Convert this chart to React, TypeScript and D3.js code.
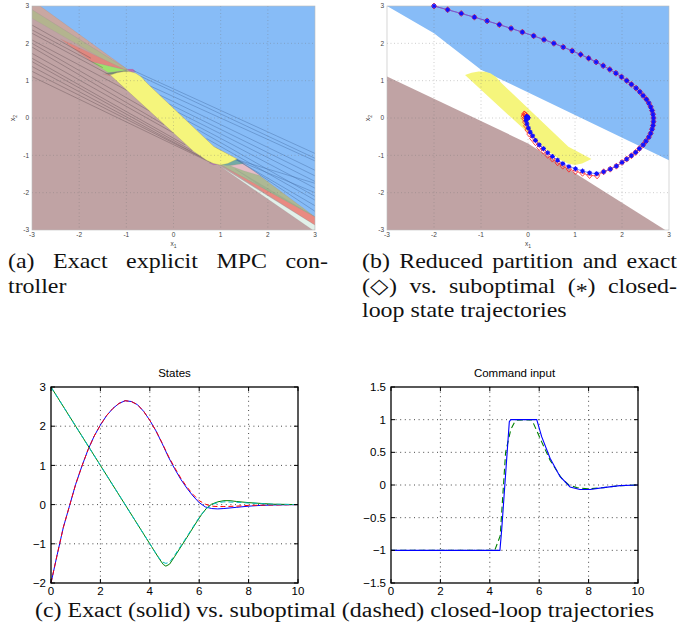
import React, { useLayoutEffect, useRef, useState } from "react";
import * as d3 from "d3";

type P = [number, number];

// ---------- (a) / (b) state-space partition ----------
const partTicks = [-3, -2, -1, 0, 1, 2, 3];

// unconstrained (yellow) region, same in both panels
const yellowRegion: P[] = [
  [-1.34, 1.15], [-1.2, 1.21], [-1.05, 1.245], [-0.91, 1.24], [-0.8, 1.2],
  [-0.68, 1.1], [-0.56, 0.93], [0.86, -0.77], [1.35, -1.1], [1.15, -1.22],
  [1.0, -1.26], [0.85, -1.22], [0.7, -1.13], [0.55, -1.0], [0.43, -0.9],
];

// panel (a): saturated u=-1 region (blue) above the band
const blueRegionA: P[] = [
  [-2.83, 3], [3, 3], [3, -2.65], [1.35, -1.1], [0.86, -0.77],
  [-0.56, 0.93], [-0.8, 1.2], [-0.95, 1.28],
];

// small regions in the band between the two saturated regions
const bandPolys: P[][] = [
  [[-3, 3], [-2.83, 3], [-0.95, 1.28], [-3, 2.9]],
  [[-3, 2.9], [-0.95, 1.28], [-1.05, 1.25], [-3, 2.67]],
  [[-2.4, 2.12], [-1.0, 1.28], [-1.73, 1.5]],
  [[-1.73, 1.5], [-1.0, 1.28], [-1.38, 1.21]],
  [[-1.45, 1.2], [-1.0, 1.27], [-0.95, 1.21], [-1.3, 1.16]],
  [[-1.5, 1.18], [-1.3, 1.16], [-1.36, 1.13]],
  [[-0.98, 1.31], [-0.86, 1.31], [-0.8, 1.24], [-0.92, 1.24]],
  [[1.35, -1.1], [3, -2.65], [1.0, -1.26]],
  [[1.3, -1.36], [3, -2.65], [2.4, -2.3]],
  [[1.0, -1.25], [1.35, -1.1], [1.5, -1.22], [1.15, -1.27]],
  [[1.2, -1.28], [1.5, -1.22], [1.85, -1.55], [1.5, -1.42]],
  [[0.75, -1.2], [0.95, -1.24], [0.85, -1.26]],
  [[1.0, -1.26], [3, -2.65], [3, -2.87], [1.1, -1.33]],
  [[0.95, -1.26], [3, -2.87], [3, -3], [2.95, -3]],
];
const bandFill = [
  "#c9a7a2", "#b3b48e", "#e0877f", "#9ce26c", "#748a74", "#e0877f", "#b66db8",
  "#adb894", "#9eb38e", "#72aaa6", "#e6bcc6", "#b66db8", "#e98a82", "#e2f1ea",
];

// region boundaries drawn inside the saturated regions
const brownCuts: [P, P][] = [
  [[-3, 2.49], [-1.75, 1.6]], [[-3, 2.36], [-1.5, 1.35]], [[-3, 2.27], [-1.35, 1.15]],
  [[-3, 2.09], [-1.0, 0.75]], [[-3, 2.0], [-0.5, 0.18]], [[-3, 1.9], [-0.2, -0.18]],
  [[-3, 1.73], [0.0, -0.4]], [[-3, 1.6], [0.25, -0.72]], [[-3, 1.51], [0.4, -0.88]],
  [[-3, 1.38], [0.6, -1.05]], [[-3, 1.25], [0.7, -1.12]], [[-3, 1.11], [0.8, -1.2]],
];
const blueCuts: [P, P][] = [
  [[-0.85, 1.27], [3, -0.95]], [[-0.7, 1.12], [3, -1.08]], [[-0.5, 0.86], [3, -1.15]],
  [[-0.3, 0.62], [3, -1.4]], [[-0.1, 0.38], [3, -1.55]], [[0.1, 0.15], [3, -1.7]],
  [[0.3, -0.08], [3, -1.88]], [[0.5, -0.3], [3, -2.1]], [[0.7, -0.55], [3, -2.2]],
  [[0.9, -0.8], [3, -2.35]], [[1.3, -1.1], [3, -1.75]], [[1.2, -1.05], [3, -2.0]],
  [[1.35, -1.12], [3, -2.5]],
];

// panel (b): reduced partition
const blueRegionB: P[] = [[-3, 3], [3, 3], [3, -1.13], [-1.0, 1.29], [-2.0, 2.27]];
const brownRegionB: P[] = [[-3, -3], [2.92, -3], [0, -0.68], [-3, 1.11]];

// closed-loop trajectory (x1, x2), shared first part
const trajUpper: P[] = [
  [-2.0, 3.0], [-1.71, 2.9], [-1.42, 2.8], [-1.14, 2.7], [-0.87, 2.6], [-0.61, 2.5],
  [-0.36, 2.4], [-0.12, 2.3], [0.12, 2.2], [0.34, 2.1], [0.55, 2.0], [0.75, 1.9],
  [0.94, 1.8], [1.12, 1.7], [1.29, 1.6], [1.45, 1.5], [1.6, 1.4], [1.74, 1.3],
  [1.87, 1.2], [1.99, 1.1], [2.1, 1.0], [2.2, 0.9], [2.3, 0.8], [2.38, 0.7],
  [2.45, 0.6], [2.52, 0.5], [2.57, 0.4], [2.61, 0.3], [2.64, 0.2], [2.66, 0.1],
  [2.67, 0.0], [2.67, -0.1], [2.66, -0.2], [2.64, -0.3], [2.61, -0.41], [2.57, -0.51],
  [2.51, -0.62], [2.45, -0.72], [2.37, -0.82], [2.29, -0.92], [2.2, -1.01], [2.1, -1.1],
  [2.0, -1.19], [1.88, -1.29], [1.75, -1.37], [1.61, -1.44],
];
const trajSubLower: P[] = [
  [1.46, -1.49], [1.31, -1.47], [1.16, -1.42], [1.01, -1.36], [0.87, -1.3], [0.74, -1.22],
  [0.63, -1.13], [0.52, -1.03], [0.42, -0.93], [0.33, -0.82], [0.24, -0.72], [0.16, -0.6],
  [0.1, -0.48], [0.05, -0.38], [0.01, -0.27], [-0.02, -0.16], [-0.04, -0.07], [-0.04, 0.0],
  [-0.03, 0.04], [-0.02, 0.03], [-0.01, 0.02], [0.0, 0.01], [0.0, 0.0],
];
const trajExactLower: P[] = [
  [1.47, -1.55], [1.31, -1.54], [1.16, -1.48], [1.01, -1.43], [0.87, -1.37], [0.74, -1.29],
  [0.63, -1.2], [0.52, -1.1], [0.42, -1.0], [0.33, -0.89], [0.24, -0.79], [0.16, -0.66],
  [0.09, -0.55], [0.03, -0.43], [-0.01, -0.32], [-0.04, -0.21], [-0.06, -0.11], [-0.08, -0.02],
  [-0.09, 0.05], [-0.08, 0.11], [-0.07, 0.1], [-0.05, 0.08], [-0.03, 0.05], [-0.01, 0.02],
];

// ---------- (c) time responses ----------
const timeTicks = [0, 2, 4, 6, 8, 10];
const stateTicks = [-2, -1, 0, 1, 2, 3];
const inputTicks = [-1.5, -1, -0.5, 0, 0.5, 1, 1.5];

const x1Exact: P[] = [
  [0, -2], [0.25, -1.28], [0.5, -0.58], [0.75, -0.03], [1, 0.52], [1.25, 0.98], [1.5, 1.4],
  [1.75, 1.75], [2, 2.03], [2.25, 2.27], [2.5, 2.45], [2.75, 2.58], [3, 2.65], [3.25, 2.63],
  [3.5, 2.55], [3.75, 2.38], [4, 2.15], [4.25, 1.88], [4.5, 1.56], [4.75, 1.22], [5, 0.92],
  [5.25, 0.65], [5.5, 0.42], [5.75, 0.22], [6, 0.05], [6.25, -0.06], [6.5, -0.1],
  [6.75, -0.11], [7, -0.1], [7.5, -0.07], [8, -0.04], [8.5, -0.02], [9, -0.01], [10, 0],
];
const x1Sub: P[] = [
  [0, -2], [0.25, -1.28], [0.5, -0.58], [0.75, -0.03], [1, 0.52], [1.25, 0.98], [1.5, 1.4],
  [1.75, 1.75], [2, 2.03], [2.25, 2.27], [2.5, 2.45], [2.75, 2.58], [3, 2.65], [3.25, 2.63],
  [3.5, 2.55], [3.75, 2.38], [4, 2.15], [4.25, 1.88], [4.5, 1.57], [4.75, 1.24], [5, 0.95],
  [5.25, 0.68], [5.5, 0.45], [5.75, 0.26], [6, 0.1], [6.25, 0.01], [6.5, -0.04],
  [6.75, -0.05], [7, -0.05], [7.5, -0.04], [8, -0.02], [9, -0.01], [10, 0],
];
const x2Exact: P[] = [
  [0, 3], [1, 2], [2, 1], [3, 0], [4, -1], [4.4, -1.4], [4.55, -1.53], [4.65, -1.57],
  [4.8, -1.52], [5, -1.33], [5.5, -0.84], [5.9, -0.44], [6.1, -0.25], [6.3, -0.09],
  [6.5, 0.01], [6.75, 0.07], [7, 0.1], [7.25, 0.1], [7.5, 0.08], [8, 0.05], [8.5, 0.03],
  [9, 0.01], [10, 0],
];
const x2Sub: P[] = [
  [0, 3], [1, 2], [2, 1], [3, 0], [4, -1], [4.3, -1.3], [4.5, -1.46], [4.65, -1.5],
  [4.8, -1.47], [5, -1.3], [5.5, -0.82], [5.9, -0.42], [6.1, -0.24], [6.3, -0.1],
  [6.5, 0.0], [6.75, 0.05], [7, 0.07], [7.5, 0.06], [8, 0.04], [9, 0.01], [10, 0],
];
const uExact: P[] = [
  [0, -1], [4.41, -1], [4.48, -0.69], [4.79, 0.97], [4.85, 1], [5.9, 1], [6.1, 0.74],
  [6.44, 0.41], [6.84, 0.13], [7.25, -0.03], [7.65, -0.07], [8.06, -0.07], [8.6, -0.04],
  [9.27, -0.01], [10, 0],
];
const uSub: P[] = [
  [0, -1], [4.2, -1], [4.3, -0.9], [4.42, -0.78], [4.64, 0.5], [4.85, 0.85], [5.0, 0.96],
  [5.1, 0.99], [5.7, 1.0], [5.83, 0.89], [6.1, 0.66], [6.44, 0.38], [6.91, 0.1],
  [7.2, 0.0], [7.52, -0.04], [8, -0.06], [8.6, -0.04], [9.3, -0.01], [10, 0],
];

const serif = "'Liberation Serif', 'Times New Roman', serif";
const sans = "'Liberation Sans', Arial, Helvetica, sans-serif";

const polyPath = (xs: d3.ScaleLinear<number, number>, ys: d3.ScaleLinear<number, number>, pts: P[]) =>
  d3.line<P>().x(d => xs(d[0])).y(d => ys(d[1]))(pts) + "Z";
const linePath = (xs: d3.ScaleLinear<number, number>, ys: d3.ScaleLinear<number, number>, pts: P[]) =>
  d3.line<P>().x(d => xs(d[0])).y(d => ys(d[1]))(pts) || "";

// caption line: glyphs stretched horizontally like the reference, optionally justified
function Caption({ x, y, width, text, justify, fit, size = 21, sx = 1.14, children }: any) {
  const ref = useRef<SVGTextElement>(null);
  const [ws, setWs] = useState(0);
  useLayoutEffect(() => {
    if (!justify || !ref.current) return;
    const natural = ref.current.getComputedTextLength();
    const gaps = text.split(" ").length - 1;
    setWs((width / sx - natural) / gaps);
  }, [text, width, justify, sx]);
  if (fit) {
    return (
      <text x={x} y={y} fontFamily={serif} fontSize={size} fill="#111"
        textLength={width} lengthAdjust="spacingAndGlyphs">{text}</text>
    );
  }
  return (
    <g transform={`translate(${x},${y}) scale(${sx},1)`}>
      <text ref={ref} x={0} y={0} fontFamily={serif} fontSize={size} fill="#111"
        style={{ wordSpacing: ws + "px" }}>
        {children || text}
      </text>
    </g>
  );
}

function PartitionAxes({ xs, ys }: any) {
  const [x0, x1] = xs.range();
  const [y0, y1] = ys.range();
  const inner = partTicks.slice(1, -1);
  return (
    <g>
      {inner.map(t => (
        <line key={"gx" + t} x1={xs(t)} x2={xs(t)} y1={y1} y2={y0}
          stroke="#777" strokeOpacity={0.6} strokeWidth={0.6} strokeDasharray="1,2.5" />
      ))}
      {inner.map(t => (
        <line key={"gy" + t} x1={x0} x2={x1} y1={ys(t)} y2={ys(t)}
          stroke="#777" strokeOpacity={0.6} strokeWidth={0.6} strokeDasharray="1,2.5" />
      ))}
      <rect x={x0} y={y1} width={x1 - x0} height={y0 - y1} fill="none" stroke="#bbb" strokeWidth={0.6} />
      {partTicks.map(t => (
        <text key={"ty" + t} x={x0 - 3} y={ys(t)} dy="0.35em" textAnchor="end"
          fontFamily={sans} fontSize={6.5} fill="#444">{t}</text>
      ))}
      {partTicks.map(t => (
        <text key={"tx" + t} x={xs(t)} y={y0 + 7} textAnchor="middle"
          fontFamily={sans} fontSize={6.5} fill="#444">{t}</text>
      ))}
      <text x={xs(0)} y={y0 + 16} textAnchor="middle" fontFamily={sans} fontSize={6.5} fill="#444">
        x<tspan fontSize={5} dy={1.5}>1</tspan>
      </text>
      <text transform={`translate(${x0 - 17},${ys(0)}) rotate(-90)`} textAnchor="middle"
        fontFamily={sans} fontSize={6.5} fill="#444">
        x<tspan fontSize={5} dy={1.5}>2</tspan>
      </text>
    </g>
  );
}

function TimePlot({ xs, ys, yTicks, title, children }: any) {
  const [x0, x1] = xs.range();
  const [y0, y1] = ys.range();
  const fmt = (v: number) => (v < 0 ? "\u2212" + Math.abs(v) : String(v));
  return (
    <g>
      {timeTicks.slice(1, -1).map(t => (
        <line key={"gx" + t} x1={xs(t)} x2={xs(t)} y1={y1} y2={y0}
          stroke="#333" strokeWidth={0.9} strokeDasharray="1,3.6" />
      ))}
      {yTicks.slice(1, -1).map((t: number) => (
        <line key={"gy" + t} x1={x0} x2={x1} y1={ys(t)} y2={ys(t)}
          stroke="#333" strokeWidth={0.9} strokeDasharray="1,3.6" />
      ))}
      {children}
      {timeTicks.map(t => (
        <g key={"tk" + t}>
          <line x1={xs(t)} x2={xs(t)} y1={y0} y2={y0 - 4} stroke="#000" />
          <line x1={xs(t)} x2={xs(t)} y1={y1} y2={y1 + 4} stroke="#000" />
          <text x={xs(t)} y={y0 + 12} textAnchor="middle" fontFamily={sans} fontSize={11.5}>{fmt(t)}</text>
        </g>
      ))}
      {yTicks.map((t: number) => (
        <g key={"ty" + t}>
          <line x1={x0} x2={x0 + 4} y1={ys(t)} y2={ys(t)} stroke="#000" />
          <line x1={x1} x2={x1 - 4} y1={ys(t)} y2={ys(t)} stroke="#000" />
          <text x={x0 - 5} y={ys(t)} dy="0.36em" textAnchor="end" fontFamily={sans} fontSize={11.5}>{fmt(t)}</text>
        </g>
      ))}
      <rect x={x0} y={y1} width={x1 - x0} height={y0 - y1} fill="none" stroke="#000" strokeWidth={1.3} />
      <text x={(x0 + x1) / 2} y={y1 - 10} textAnchor="middle" fontFamily={sans} fontSize={11.5}>{title}</text>
    </g>
  );
}

export default function App() {
  const xA = d3.scaleLinear().domain([-3, 3]).range([32, 315]);
  const xB = d3.scaleLinear().domain([-3, 3]).range([387, 669]);
  const yP = d3.scaleLinear().domain([-3, 3]).range([230, 6]);

  const xS = d3.scaleLinear().domain([0, 10]).range([51, 298]);
  const yS = d3.scaleLinear().domain([-2, 3]).range([583, 387]);
  const xC = d3.scaleLinear().domain([0, 10]).range([391, 638]);
  const yC = d3.scaleLinear().domain([-1.5, 1.5]).range([583, 387]);

  const trajSub = trajUpper.concat(trajSubLower);
  const trajExact = trajUpper.concat(trajExactLower);

  const blue = "#87bcf7";
  const brown = "#c0a3a4";
  const yellow = "#f5f57c";

  return (
    <svg width={681} height={626} style={{ position: "absolute", left: 0, top: 0, display: "block", background: "#fff" }}>
      <defs>
        <clipPath id="clipA"><rect x={32} y={6} width={283} height={224} /></clipPath>
        <clipPath id="clipB"><rect x={387} y={6} width={282} height={224} /></clipPath>
      </defs>

      {/* (a) exact explicit controller */}
      <g clipPath="url(#clipA)">
        <rect x={32} y={6} width={283} height={224} fill={brown} />
        <path d={polyPath(xA, yP, blueRegionA)} fill={blue} />
        {bandPolys.map((p, i) => (
          <path key={i} d={polyPath(xA, yP, p)} fill={bandFill[i]} stroke="#8a8a8a" strokeOpacity={0.35} strokeWidth={0.4} />
        ))}
        {brownCuts.map((c, i) => (
          <path key={"b" + i} d={linePath(xA, yP, c)} stroke="#6f5a5e" strokeOpacity={0.8} strokeWidth={0.6} fill="none" />
        ))}
        {blueCuts.map((c, i) => (
          <path key={"u" + i} d={linePath(xA, yP, c)} stroke="#4a74ad" strokeOpacity={0.8} strokeWidth={0.6} fill="none" />
        ))}
        <path d={polyPath(xA, yP, yellowRegion)} fill={yellow} stroke="#9a9a60" strokeWidth={0.3} />
      </g>
      <PartitionAxes xs={xA} ys={yP} />

      {/* (b) reduced partition + trajectories */}
      <g clipPath="url(#clipB)">
        <path d={polyPath(xB, yP, blueRegionB)} fill={blue} />
        <path d={polyPath(xB, yP, brownRegionB)} fill={brown} />
        <path d={polyPath(xB, yP, yellowRegion)} fill={yellow} />
      </g>
      <PartitionAxes xs={xB} ys={yP} />
      <path d={linePath(xB, yP, trajExact)} fill="none" stroke="#ff3030" strokeWidth={0.7} />
      <path d={linePath(xB, yP, trajSub)} fill="none" stroke="#4a5cff" strokeWidth={0.8} />
      {trajExact.map((d, i) => (
        <path key={"e" + i} transform={`translate(${xB(d[0])},${yP(d[1])})`}
          d="M0,-3L2.6,0L0,3L-2.6,0Z" fill="none" stroke="#ff2020" strokeWidth={0.8} />
      ))}
      {trajSub.map((d, i) => (
        <path key={"s" + i} transform={`translate(${xB(d[0])},${yP(d[1])})`}
          d="M-2.4,0H2.4M0,-2.4V2.4M-1.7,-1.7L1.7,1.7M-1.7,1.7L1.7,-1.7" stroke="#1010ff" strokeWidth={1.1} />
      ))}

      {/* (c) states */}
      <TimePlot xs={xS} ys={yS} yTicks={stateTicks} title="States">
        <path d={linePath(xS, yS, x1Exact)} fill="none" stroke="#0000ff" strokeWidth={1} />
        <path d={linePath(xS, yS, x2Exact)} fill="none" stroke="#008000" strokeWidth={1} />
        <path d={linePath(xS, yS, x1Sub)} fill="none" stroke="#ff0000" strokeWidth={1} strokeDasharray="5,3" />
        <path d={linePath(xS, yS, x2Sub)} fill="none" stroke="#00bfbf" strokeWidth={1} strokeDasharray="5,3" />
      </TimePlot>

      {/* (c) command input */}
      <TimePlot xs={xC} ys={yC} yTicks={inputTicks} title="Command input">
        <path d={linePath(xC, yC, uSub)} fill="none" stroke="#008000" strokeWidth={1.1} strokeDasharray="6,3.5" />
        <path d={linePath(xC, yC, uExact)} fill="none" stroke="#0000ff" strokeWidth={1.1} />
      </TimePlot>

      {/* captions */}
      <Caption x={8} y={268} width={320} justify text="(a) Exact explicit MPC con-" />
      <Caption x={8} y={292.5} text="troller" />
      <Caption x={362} y={268} width={315} justify text="(b) Reduced partition and exact" />
      <Caption x={362} y={292.5} width={315} justify text="(x) vs. suboptimal (x) closed-">
        ({"\u25C7"}) vs. suboptimal (<tspan dy={5}>*</tspan><tspan dy={-5}>)</tspan> closed-
      </Caption>
      <Caption x={362} y={317} text="loop state trajectories" />
      <Caption x={35} y={617} width={619} size={20} fit text="(c) Exact (solid) vs. suboptimal (dashed) closed-loop trajectories" />
    </svg>
  );
}
